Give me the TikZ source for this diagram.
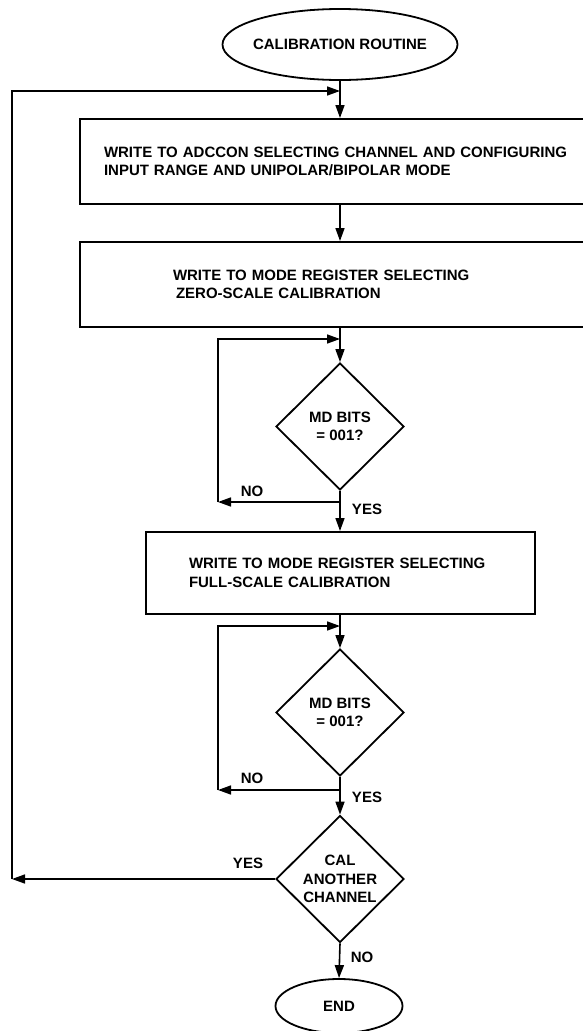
\documentclass[tikz,border=0pt]{standalone}
\usepackage{fontspec}
\setmainfont{Liberation Sans}
\usetikzlibrary{shapes.geometric,arrows.meta}
\tikzset{
  flowtext/.style = {font=\bfseries\fontsize{15}{18.5}\selectfont},
  terminal/.style = {draw, ellipse, line width=1.8pt, flowtext, inner sep=0pt},
  stepbox/.style = {draw, rectangle, line width=2pt, flowtext, align=left,
                    anchor=north west, inner ysep=0pt},
  decision/.style = {draw, diamond, line width=1.8pt, flowtext, align=center,
                     inner sep=0pt, minimum width=128pt, minimum height=127pt},
  flow/.style = {line width=1.6pt, -{Triangle[length=13pt,width=9pt]}},
  plain/.style = {line width=1.6pt},
  answer/.style = {flowtext}
}
\begin{document}
\begin{tikzpicture}[x=1pt, y=-1pt]
    \useasboundingbox (0,0) rectangle (583,1031);
    \coordinate (spine) at (340,0);
    \coordinate (back) at (12,91);
    \coordinate (ret1) at (218,339);
    \coordinate (no1) at (340,502);
    \coordinate (ret2) at (218,626);
    \coordinate (no2) at (340,790);

    \node[terminal, inner xsep=-6pt, minimum width=235pt, minimum height=71pt]
      (start) at (340,44.5) {CALIBRATION ROUTINE};
    \node[stepbox, minimum width=541pt, minimum height=85pt, inner xsep=24pt,
          text width=493pt] (adc) at (79,118)
      {WRITE TO ADCCON SELECTING CHANNEL AND CONFIGURING\\
       INPUT RANGE AND UNIPOLAR/BIPOLAR MODE};
    \node[stepbox, minimum width=541pt, minimum height=85pt, inner xsep=93pt,
          text width=355pt] (zero) at (79,241)
      {WRITE TO MODE REGISTER SELECTING\\
       \hspace{3pt}ZERO-SCALE CALIBRATION};
    \node[decision] (md1) at (340,426.5) {MD BITS\\= 001?};
    \node[stepbox, minimum width=389pt, minimum height=82pt, inner xsep=43pt,
          text width=303pt] (full) at (145,531)
      {WRITE TO MODE REGISTER SELECTING\\
       FULL-SCALE CALIBRATION};
    \node[decision] (md2) at (340,712.5) {MD BITS\\= 001?};
    \node[decision] (cal) at (340,879) {CAL\\ANOTHER\\CHANNEL};
    \node[terminal, minimum width=127pt, minimum height=54pt] (end) at (339,1006)
      {END};

    \draw[plain] (start.south) -- (spine |- back);
    \draw[flow] (spine |- back) -- (spine |- adc.north);
    \draw[flow] (spine |- adc.south) -- (spine |- zero.north);
    \draw[plain] (spine |- zero.south) -- (spine |- ret1);
    \draw[flow] (spine |- ret1) -- (md1.north);
    \draw[plain] (md1.south) -- (no1);
    \draw[flow] (no1) -- (spine |- full.north);
    \draw[flow] (no1) -- (no1 -| ret1);
    \draw[flow] (no1 -| ret1) -- (ret1) -- (ret1 -| spine);
    \draw[plain] (spine |- full.south) -- (spine |- ret2);
    \draw[flow] (spine |- ret2) -- (md2.north);
    \draw[plain] (md2.south) -- (no2);
    \draw[flow] (no2) -- (cal.north);
    \draw[flow] (no2) -- (no2 -| ret2);
    \draw[flow] (no2 -| ret2) -- (ret2) -- (ret2 -| spine);
    \draw[flow] (cal.west) -- (cal.west -| back);
    \draw[flow] (cal.west -| back) -- (back) -- (back -| spine);
    \draw[flow] (cal.south) -- (end.north);

    \node[answer] (no1lbl) at (252,491) {NO};
    \node[answer] (yes1lbl) at (367,509) {YES};
    \node[answer] (no2lbl) at (252,778) {NO};
    \node[answer] (yes2lbl) at (367,797) {YES};
    \node[answer] (yes3lbl) at (248,863) {YES};
    \node[answer] (no3lbl) at (362,957) {NO};
\end{tikzpicture}
\end{document}
